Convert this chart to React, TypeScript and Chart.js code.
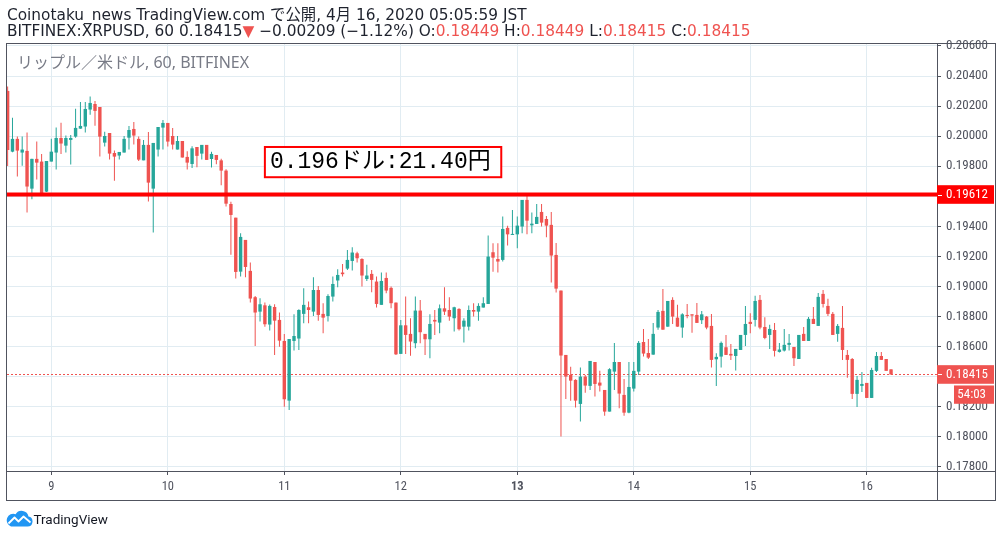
import React, { useEffect, useRef } from 'react';
import { Chart, registerables } from 'chart.js';

Chart.register(...registerables);

// Hour index of the first candle, counted from 4/9 00:00 JST (1h candles)
const FIRST_HOUR = -9;

const opens = [
  0.20301, 0.19897, 0.19982, 0.19891, 0.19902, 0.19651, 0.19849, 0.19831, 0.19631, 0.19831,
  0.19891, 0.19988, 0.19937, 0.19975, 0.19997, 0.20050, 0.20064, 0.20177, 0.20214, 0.20194,
  0.19957, 0.20021, 0.19888, 0.19871, 0.19891, 0.19990, 0.20048, 0.19982, 0.19839, 0.19942,
  0.19651, 0.19911, 0.20057, 0.20088, 0.20001, 0.19911, 0.19968, 0.19862, 0.19815, 0.19928,
  0.19884, 0.19942, 0.19848, 0.19875, 0.19839, 0.19771, 0.19549, 0.19458, 0.19099, 0.19310,
  0.19104, 0.18929, 0.18833, 0.18875, 0.18747, 0.18864, 0.18778, 0.18638, 0.18241, 0.18638,
  0.18654, 0.18818, 0.18862, 0.18833, 0.18977, 0.18818, 0.18804, 0.18933, 0.19040, 0.19093,
  0.19119, 0.19170, 0.19221, 0.19183, 0.19050, 0.19084, 0.19033, 0.18878, 0.19057, 0.18991,
  0.18893, 0.18552, 0.18742, 0.18685, 0.18623, 0.18840, 0.18685, 0.18649, 0.18778, 0.18760,
  0.18855, 0.18844, 0.18789, 0.18851, 0.18733, 0.18733, 0.18844, 0.18833, 0.18860, 0.18884,
  0.19228, 0.19183, 0.19177, 0.19390, 0.19343, 0.19347, 0.19399, 0.19576, 0.19407, 0.19416,
  0.19496, 0.19449, 0.19410, 0.19210, 0.18973, 0.18545, 0.18412, 0.18379, 0.18219, 0.18401,
  0.18339, 0.18498, 0.18361, 0.18312, 0.18168, 0.18434, 0.18498, 0.18279, 0.18161, 0.18321,
  0.18434, 0.18631, 0.18558, 0.18547, 0.18727, 0.18838, 0.18733, 0.18911, 0.18793, 0.18727,
  0.18811, 0.18815, 0.18811, 0.18776, 0.18800, 0.18738, 0.18516, 0.18534, 0.18596, 0.18552,
  0.18538, 0.18578, 0.18678, 0.18765, 0.18778, 0.18911, 0.18731, 0.18678, 0.18711, 0.18565,
  0.18574, 0.18612, 0.18598, 0.18518, 0.18685, 0.18638, 0.18785, 0.18738, 0.18951, 0.18871,
  0.18818, 0.18685, 0.18725, 0.18545, 0.18518, 0.18286, 0.18339, 0.18359, 0.18259, 0.18439,
  0.18538, 0.18518, 0.18449,
];

const highs = [
  0.20330, 0.20123, 0.19997, 0.19997, 0.20024, 0.19849, 0.19964, 0.19882, 0.19835, 0.19982,
  0.20057, 0.20090, 0.20004, 0.20008, 0.20183, 0.20228, 0.20228, 0.20263, 0.20234, 0.20194,
  0.20030, 0.20021, 0.19904, 0.19895, 0.20001, 0.20068, 0.20095, 0.19997, 0.19975, 0.20028,
  0.19955, 0.20061, 0.20108, 0.20088, 0.20055, 0.20001, 0.19968, 0.19900, 0.19933, 0.19928,
  0.19942, 0.19942, 0.19897, 0.19875, 0.19849, 0.19780, 0.19563, 0.19458, 0.19354, 0.19310,
  0.19159, 0.18937, 0.18922, 0.18893, 0.18880, 0.18882, 0.18827, 0.18685, 0.18651, 0.18815,
  0.18849, 0.18988, 0.18900, 0.19062, 0.19004, 0.18889, 0.18949, 0.19066, 0.19115, 0.19150,
  0.19243, 0.19261, 0.19232, 0.19188, 0.19144, 0.19110, 0.19066, 0.19093, 0.19093, 0.19000,
  0.18893, 0.18778, 0.18933, 0.18789, 0.18933, 0.18911, 0.18685, 0.18815, 0.18844, 0.18880,
  0.18995, 0.18929, 0.18866, 0.18855, 0.18789, 0.18873, 0.18889, 0.18889, 0.18929, 0.19339,
  0.19288, 0.19288, 0.19465, 0.19405, 0.19509, 0.19465, 0.19576, 0.19620, 0.19492, 0.19549,
  0.19549, 0.19469, 0.19496, 0.19290, 0.18973, 0.18545, 0.18467, 0.18383, 0.18461, 0.18412,
  0.18505, 0.18498, 0.18439, 0.18312, 0.18456, 0.18625, 0.18498, 0.18385, 0.18498, 0.18498,
  0.18638, 0.18718, 0.18651, 0.18758, 0.18844, 0.18984, 0.18904, 0.18929, 0.18878, 0.18822,
  0.18884, 0.18815, 0.18891, 0.18838, 0.18804, 0.18818, 0.18556, 0.18634, 0.18678, 0.18618,
  0.18585, 0.18678, 0.18871, 0.18822, 0.18938, 0.18944, 0.18796, 0.18745, 0.18758, 0.18625,
  0.18718, 0.18685, 0.18598, 0.18678, 0.18731, 0.18798, 0.18864, 0.18957, 0.18977, 0.18918,
  0.18831, 0.18751, 0.18871, 0.18578, 0.18525, 0.18405, 0.18432, 0.18359, 0.18459, 0.18565,
  0.18565, 0.18518, 0.18449,
];

const lows = [
  0.19802, 0.19893, 0.19731, 0.19804, 0.19492, 0.19580, 0.19711, 0.19609, 0.19629, 0.19831,
  0.19778, 0.19882, 0.19891, 0.19811, 0.19990, 0.20050, 0.20024, 0.20143, 0.20070, 0.19864,
  0.19931, 0.19844, 0.19704, 0.19844, 0.19891, 0.19911, 0.19944, 0.19835, 0.19839, 0.19565,
  0.19359, 0.19864, 0.19911, 0.19931, 0.19911, 0.19911, 0.19858, 0.19778, 0.19789, 0.19793,
  0.19844, 0.19842, 0.19791, 0.19813, 0.19673, 0.19532, 0.19212, 0.19053, 0.19066, 0.19062,
  0.18893, 0.18605, 0.18767, 0.18733, 0.18707, 0.18545, 0.18600, 0.18201, 0.18179, 0.18574,
  0.18578, 0.18756, 0.18756, 0.18804, 0.18773, 0.18689, 0.18767, 0.18900, 0.18995, 0.19066,
  0.19110, 0.19106, 0.19159, 0.19000, 0.19037, 0.18962, 0.18860, 0.18878, 0.18955, 0.18855,
  0.18545, 0.18552, 0.18552, 0.18539, 0.18589, 0.18623, 0.18545, 0.18523, 0.18678, 0.18689,
  0.18811, 0.18773, 0.18700, 0.18707, 0.18627, 0.18707, 0.18800, 0.18773, 0.18860, 0.18884,
  0.19099, 0.19093, 0.19166, 0.19272, 0.19343, 0.19254, 0.19354, 0.19347, 0.19354, 0.19416,
  0.19399, 0.19327, 0.19026, 0.18960, 0.18002, 0.18252, 0.18241, 0.18195, 0.18102, 0.18294,
  0.18312, 0.18268, 0.18301, 0.18141, 0.18168, 0.18312, 0.18190, 0.18141, 0.18157, 0.18301,
  0.18412, 0.18534, 0.18518, 0.18547, 0.18713, 0.18713, 0.18733, 0.18751, 0.18733, 0.18660,
  0.18789, 0.18693, 0.18758, 0.18751, 0.18716, 0.18461, 0.18339, 0.18461, 0.18545, 0.18512,
  0.18441, 0.18578, 0.18605, 0.18689, 0.18734, 0.18716, 0.18649, 0.18585, 0.18534, 0.18561,
  0.18567, 0.18574, 0.18472, 0.18518, 0.18638, 0.18638, 0.18751, 0.18738, 0.18860, 0.18804,
  0.18678, 0.18632, 0.18512, 0.18394, 0.18252, 0.18199, 0.18299, 0.18259, 0.18259, 0.18432,
  0.18512, 0.18439, 0.18415,
];

const closes = [
  0.19908, 0.19982, 0.19904, 0.19911, 0.19665, 0.19849, 0.19824, 0.19620, 0.19835, 0.19897,
  0.19988, 0.19951, 0.19988, 0.19988, 0.20055, 0.20068, 0.20181, 0.20221, 0.20168, 0.19997,
  0.20001, 0.19884, 0.19864, 0.19895, 0.19982, 0.20041, 0.20004, 0.19844, 0.19942, 0.19691,
  0.19955, 0.20061, 0.20088, 0.19964, 0.19944, 0.19968, 0.19858, 0.19824, 0.19919, 0.19869,
  0.19942, 0.19842, 0.19882, 0.19842, 0.19771, 0.19551, 0.19476, 0.19097, 0.19330, 0.19130,
  0.18920, 0.18827, 0.18882, 0.18749, 0.18871, 0.18773, 0.18640, 0.18250, 0.18651, 0.18671,
  0.18844, 0.18878, 0.18844, 0.18977, 0.18811, 0.18793, 0.18937, 0.19017, 0.19077, 0.19082,
  0.19177, 0.19226, 0.19188, 0.19073, 0.19073, 0.19044, 0.18884, 0.19037, 0.18973, 0.18889,
  0.18549, 0.18742, 0.18678, 0.18634, 0.18840, 0.18696, 0.18649, 0.18751, 0.18767, 0.18855,
  0.18833, 0.18800, 0.18862, 0.18716, 0.18773, 0.18844, 0.18833, 0.18871, 0.18889, 0.19199,
  0.19192, 0.19166, 0.19383, 0.19347, 0.19350, 0.19405, 0.19576, 0.19438, 0.19418, 0.19463,
  0.19425, 0.19405, 0.19206, 0.18986, 0.18541, 0.18401, 0.18374, 0.18241, 0.18401, 0.18341,
  0.18505, 0.18352, 0.18341, 0.18168, 0.18450, 0.18498, 0.18288, 0.18161, 0.18332, 0.18439,
  0.18625, 0.18554, 0.18527, 0.18685, 0.18831, 0.18713, 0.18904, 0.18800, 0.18733, 0.18815,
  0.18804, 0.18807, 0.18758, 0.18815, 0.18727, 0.18512, 0.18532, 0.18625, 0.18545, 0.18541,
  0.18585, 0.18678, 0.18751, 0.18751, 0.18904, 0.18727, 0.18658, 0.18718, 0.18572, 0.18581,
  0.18612, 0.18625, 0.18523, 0.18678, 0.18638, 0.18785, 0.18751, 0.18931, 0.18884, 0.18818,
  0.18678, 0.18738, 0.18578, 0.18512, 0.18286, 0.18379, 0.18352, 0.18259, 0.18445, 0.18538,
  0.18512, 0.18439, 0.18415,
];

const priceTicks = [0.178, 0.180, 0.182, 0.184, 0.186, 0.188, 0.190, 0.192, 0.194, 0.196, 0.198, 0.200, 0.202, 0.204, 0.206];
const dayTickHours = [0, 24, 48, 72, 96, 120, 144, 168];
const dayLabels = ['9', '10', '11', '12', '13', '14', '15', '16'];
const boldDayHour = 96;

const hLinePrice = 0.19612;
const hLineLabel = '0.19612';
const lastPrice = 0.18415;
const lastPriceLabel = '0.18415';
const countdown = '54:03';

const noteText = '0.196ドル:21.40円';
const noteHours = [44.0, 92.7];
const notePrices = [0.19928, 0.19727];

const X_MIN = -9.13;
const X_MAX = 182.47;
const Y_MIN = 0.17773;
const Y_MAX = 0.20613;

const UP = '#26a69a';
const DOWN = '#ef5350';
const GRID = '#e1ecf2';
const FRAME = '#50535e';
const AXIS_TEXT = '#50535e';
const AXIS_FONT = "'Liberation Sans Narrow', 'Roboto Condensed', 'DejaVu Sans Condensed', Roboto, sans-serif";
const HEAD_FONT = "'DejaVu Sans', 'Noto Sans CJK JP', sans-serif";
const UI_FONT = "'Noto Sans', 'Noto Sans CJK JP', sans-serif";
const NOTE_FONT = "'Liberation Mono', 'Noto Sans CJK JP', monospace";

const decorPlugin = {
  id: 'tvDecor',
  beforeDatasetsDraw(chart: any) {
    const { ctx, chartArea: a, scales } = chart;
    const py = Math.round(scales.y.getPixelForValue(lastPrice)) + 0.5;
    ctx.save();
    ctx.strokeStyle = DOWN;
    ctx.lineWidth = 1;
    ctx.setLineDash([2, 2]);
    ctx.beginPath();
    ctx.moveTo(a.left, py);
    ctx.lineTo(a.right, py);
    ctx.stroke();
    ctx.restore();
  },
  afterDatasetsDraw(chart: any) {
    const { ctx, chartArea: a, scales } = chart;
    const x = scales.x;
    const y = scales.y;
    ctx.save();
    const ly = y.getPixelForValue(hLinePrice);
    ctx.fillStyle = '#ff0000';
    ctx.fillRect(a.left, ly - 2, a.right - a.left, 4);

    const bx1 = x.getPixelForValue(noteHours[0]);
    const bx2 = x.getPixelForValue(noteHours[1]);
    const by1 = y.getPixelForValue(notePrices[0]);
    const by2 = y.getPixelForValue(notePrices[1]);
    ctx.fillStyle = '#ffffff';
    ctx.fillRect(bx1, by1, bx2 - bx1, by2 - by1);
    ctx.strokeStyle = '#ff0000';
    ctx.lineWidth = 2;
    ctx.strokeRect(bx1, by1, bx2 - bx1, by2 - by1);
    ctx.fillStyle = '#000000';
    ctx.font = `23px ${NOTE_FONT}`;
    ctx.textBaseline = 'middle';
    ctx.textAlign = 'left';
    ctx.fillText(noteText, bx1 + 5, (by1 + by2) / 2);
    ctx.restore();
  },
  afterDraw(chart: any) {
    const { ctx, chartArea: a, scales } = chart;
    const y = scales.y;
    const frameL = a.left - 0.5;
    const frameT = a.top - 0.5;
    const frameR = a.right + y.width - 0.5;
    const frameB = a.bottom + scales.x.height + 0.5;
    ctx.save();
    ctx.strokeStyle = FRAME;
    ctx.lineWidth = 1;
    ctx.strokeRect(frameL, frameT, frameR - frameL, frameB - frameT);
    ctx.beginPath();
    ctx.moveTo(a.right + 0.5, frameT);
    ctx.lineTo(a.right + 0.5, frameB);
    ctx.moveTo(frameL, a.bottom + 0.5);
    ctx.lineTo(frameR, a.bottom + 0.5);
    ctx.stroke();

    const tagL = a.right;
    const tagR = frameR - 1.5;
    const tag = (value: number, bg: string, text: string) => {
      const py = y.getPixelForValue(value);
      ctx.fillStyle = bg;
      ctx.fillRect(tagL, py - 9.3, tagR - tagL, 18.6);
      ctx.strokeStyle = '#ffffff';
      ctx.beginPath();
      ctx.moveTo(tagL + 1, Math.round(py) + 0.5);
      ctx.lineTo(tagL + 5, Math.round(py) + 0.5);
      ctx.stroke();
      ctx.fillStyle = '#ffffff';
      ctx.font = `13px ${AXIS_FONT}`;
      ctx.textBaseline = 'middle';
      ctx.textAlign = 'left';
      ctx.fillText(text, tagL + 9, py + 0.5);
      return py;
    };
    tag(hLinePrice, '#ff0000', hLineLabel);
    const lp = tag(lastPrice, DOWN, lastPriceLabel);
    ctx.fillStyle = DOWN;
    ctx.fillRect(tagR - 40, lp + 11, 40, 18.3);
    ctx.fillStyle = '#ffffff';
    ctx.textAlign = 'right';
    ctx.fillText(countdown, tagR - 8, lp + 20.6);
    ctx.restore();
  },
};

export default function App() {
  const ref = useRef<HTMLCanvasElement>(null);

  useEffect(() => {
    const canvas = ref.current;
    if (!canvas) return;
    const idx = opens.map((_, i) => i);
    const colors = idx.map((i) => (closes[i] >= opens[i] ? UP : DOWN));
    const chart = new Chart(canvas, {
      type: 'bar',
      data: {
        datasets: [
          {
            label: 'wick',
            data: idx.map((i) => ({ x: FIRST_HOUR + i, y: [lows[i], highs[i]] })) as any,
            backgroundColor: colors,
            borderWidth: 0,
            barThickness: 1,
            grouped: false,
            inflateAmount: 0,
            minBarLength: 1,
            order: 2,
          } as any,
          {
            label: 'body',
            data: idx.map((i) => ({ x: FIRST_HOUR + i, y: [opens[i], closes[i]] })) as any,
            backgroundColor: colors,
            borderWidth: 0,
            barThickness: 3.4,
            grouped: false,
            inflateAmount: 0,
            minBarLength: 1,
            order: 1,
          } as any,
        ],
      },
      options: {
        animation: false,
        responsive: false,
        events: [],
        layout: { padding: { left: 7, top: 44, right: 6, bottom: 37 } },
        plugins: { legend: { display: false }, tooltip: { enabled: false } },
        scales: {
          x: {
            type: 'linear',
            min: X_MIN,
            max: X_MAX,
            offset: false,
            grid: { color: GRID, offset: false, tickLength: 4, tickColor: FRAME, drawTicks: true },
            border: { display: false },
            ticks: {
              autoSkip: false,
              maxRotation: 0,
              minRotation: 0,
              padding: 4,
              color: AXIS_TEXT,
              font: (c: any) => ({
                family: AXIS_FONT,
                size: 12.5,
                weight: c.tick && c.tick.value === boldDayHour ? 'bold' : 'normal',
              }),
              callback: (v: any) => {
                const k = dayTickHours.indexOf(Number(v));
                return k >= 0 ? dayLabels[k] : '';
              },
            },
            afterBuildTicks: (s: any) => {
              s.ticks = dayTickHours.map((v) => ({ value: v }));
            },
            afterFit: (s: any) => {
              s.height = 29;
            },
          } as any,
          y: {
            type: 'linear',
            position: 'right',
            min: Y_MIN,
            max: Y_MAX,
            beginAtZero: false,
            grid: { color: GRID, tickLength: 4, tickColor: FRAME, drawTicks: true },
            border: { display: false },
            ticks: {
              autoSkip: false,
              padding: 5,
              color: AXIS_TEXT,
              font: { family: AXIS_FONT, size: 13 },
              callback: (v: any) => Number(v).toFixed(5),
            },
            afterBuildTicks: (s: any) => {
              s.ticks = priceTicks.map((v) => ({ value: v }));
            },
            afterFit: (s: any) => {
              s.width = 59;
            },
          } as any,
        },
      },
      plugins: [decorPlugin],
    });
    return () => chart.destroy();
  }, []);

  const red = { color: DOWN };
  const line: React.CSSProperties = {
    position: 'absolute',
    left: 7,
    fontFamily: HEAD_FONT,
    fontSize: 15.35,
    lineHeight: '17px',
    color: '#1e222d',
    whiteSpace: 'nowrap',
  };

  return (
    <div style={{ position: 'fixed', left: 0, top: 0, width: 1002, height: 537, background: '#ffffff', overflow: 'hidden' }}>
      <canvas ref={ref} width={1002} height={537} style={{ position: 'absolute', left: 0, top: 0, width: 1002, height: 537 }} />
      <div style={{ ...line, top: 6.8 }}>Coinotaku_news TradingView.com で公開, 4月 16, 2020 05:05:59 JST</div>
      <div style={{ ...line, top: 23.4 }}>
        BITFINEX:XRPUSD, 60 0.18415<span style={red}>▼</span> −0.00209 (−1.12%) O:<span style={red}>0.18449</span> H:
        <span style={red}>0.18449</span> L:<span style={red}>0.18415</span> C:<span style={red}>0.18415</span>
      </div>
      <div style={{ position: 'absolute', left: 17, top: 53.6, fontFamily: UI_FONT, fontSize: 16, lineHeight: '17px', color: '#787b86', whiteSpace: 'nowrap' }}>
        リップル／米ドル, 60, BITFINEX
      </div>
      <div style={{ position: 'absolute', left: 6, top: 509 }}>
        <svg width="27" height="18" viewBox="0 0 27 18">
          <path d="M5 17.5 H21.5 A5 5 0 0 0 22.5 7.6 A7 7 0 0 0 9.6 5.2 A5.4 5.4 0 0 0 5 17.5 Z" fill="#2196f3" />
          <polyline points="2.5,14.5 8.5,8.5 12.5,12.5 17.5,7.5 24.5,13.5" fill="none" stroke="#ffffff" strokeWidth="1.8" strokeLinejoin="round" />
        </svg>
      </div>
      <div style={{ position: 'absolute', left: 33.5, top: 510.7, fontFamily: "Roboto, 'Noto Sans', sans-serif", fontSize: 13.5, lineHeight: '16px', color: '#131722' }}>
        TradingView
      </div>
    </div>
  );
}
